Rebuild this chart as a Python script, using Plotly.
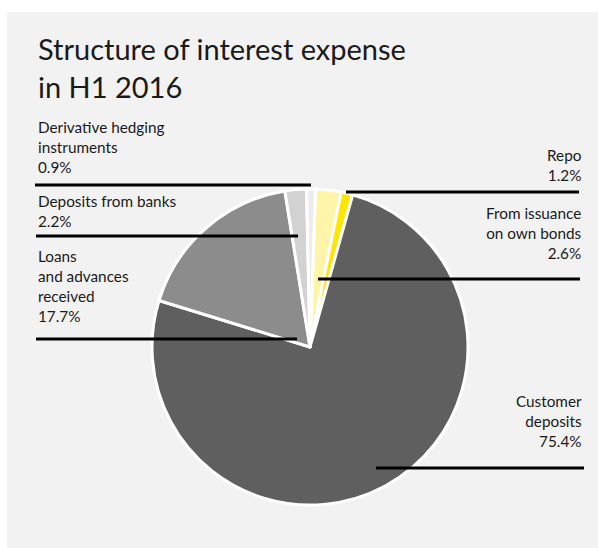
import plotly.graph_objects as go

W, H = 598, 548

# Share of interest expense, H1 2016 (%), clockwise from 12 o'clock
categories = [
    "From issuance on own bonds",
    "Repo",
    "Customer deposits",
    "Loans and advances received",
    "Deposits from banks",
    "Derivative hedging instruments",
]
shares = [2.6, 1.2, 75.4, 17.7, 2.2, 0.9]
colors = ["#fff5a9", "#ffe600", "#5f5f5f", "#8c8c8c", "#d2d2d2", "#ececec"]

# Label texts as printed beside the pie
left_labels = [
    ("Derivative hedging<br>instruments<br>{:.1f}%", 5),
    ("Deposits from banks<br>{:.1f}%", 4),
    ("Loans<br>and advances<br>received<br>{:.1f}%", 3),
]
right_labels = [
    ("Repo<br>{:.1f}%", 1),
    ("From issuance<br>on own bonds<br>{:.1f}%", 0),
    ("Customer<br>deposits<br>{:.1f}%", 2),
]


def px(x):
    return x / W


def py(y):
    return 1 - y / H


cx, cy, r = 310, 347, 158

fig = go.Figure(
    go.Pie(
        labels=categories,
        values=shares,
        sort=False,
        direction="clockwise",
        rotation=2,
        marker=dict(colors=colors, line=dict(color="white", width=3)),
        textinfo="none",
        hoverinfo="none",
        showlegend=False,
        domain=dict(x=[px(cx - r), px(cx + r)], y=[py(cy + r), py(cy - r)]),
    )
)

font_family = "Lato, 'Open Sans', sans-serif"
text_color = "#1a1a1a"
label_size = 15.3

annotations = [
    dict(
        text="Structure of interest expense<br>in H1 2016",
        x=px(36), y=py(29), xref="paper", yref="paper",
        xanchor="left", yanchor="top", align="left", showarrow=False,
        font=dict(family=font_family, size=29, color=text_color),
    )
]

left_tops = [116, 190, 245]
for (tmpl, idx), top in zip(left_labels, left_tops):
    annotations.append(dict(
        text=tmpl.format(shares[idx]),
        x=px(36), y=py(top), xref="paper", yref="paper",
        xanchor="left", yanchor="top", align="left", showarrow=False,
        font=dict(family=font_family, size=label_size, color=text_color),
    ))

right_tops = [144, 202, 390]
for (tmpl, idx), top in zip(right_labels, right_tops):
    annotations.append(dict(
        text=tmpl.format(shares[idx]),
        x=px(584), y=py(top), xref="paper", yref="paper",
        xanchor="right", yanchor="top", align="right", showarrow=False,
        font=dict(family=font_family, size=label_size, color=text_color),
    ))

# Leader lines: (x0, x1, y)
leaders = [
    (35, 311, 185),
    (36, 298, 236),
    (36, 297, 339),
    (346, 579, 192),
    (318, 580, 279),
    (376, 584, 468),
]

shapes = [
    dict(type="rect", xref="paper", yref="paper",
         x0=px(7), x1=1.0, y0=0.0, y1=py(12),
         fillcolor="#f2f2f2", line=dict(width=0), layer="below"),
]
for x0, x1, y in leaders:
    shapes.append(dict(type="line", xref="paper", yref="paper",
                       x0=px(x0), x1=px(x1), y0=py(y), y1=py(y),
                       line=dict(color="black", width=3), layer="above"))

fig.update_layout(
    width=W, height=H,
    margin=dict(l=0, r=0, t=0, b=0),
    paper_bgcolor="white",
    plot_bgcolor="white",
    annotations=annotations,
    shapes=shapes,
)

fig.write_html("out.html")
